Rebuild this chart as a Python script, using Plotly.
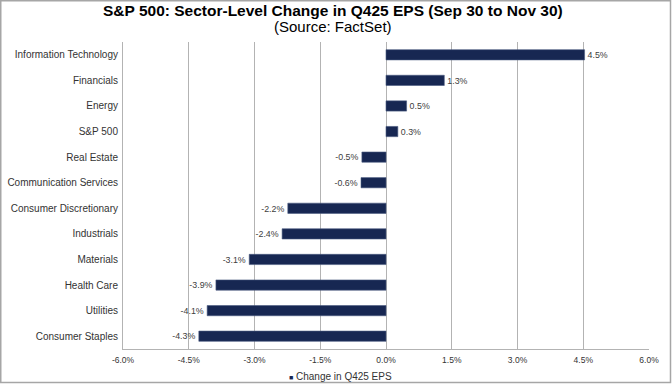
import plotly.graph_objects as go

categories = ["Information Technology", "Financials", "Energy", "S&P 500", "Real Estate",
              "Communication Services", "Consumer Discretionary", "Industrials", "Materials",
              "Health Care", "Utilities", "Consumer Staples"]
values = [4.53, 1.33, 0.47, 0.27, -0.55, -0.57, -2.24, -2.37, -3.12, -3.88, -4.08, -4.27]
labels = ["4.5%", "1.3%", "0.5%", "0.3%", "-0.5%", "-0.6%", "-2.2%", "-2.4%", "-3.1%",
          "-3.9%", "-4.1%", "-4.3%"]
tick_vals = [-6, -4.5, -3, -1.5, 0, 1.5, 3, 4.5, 6]
tick_text = ["-6.0%", "-4.5%", "-3.0%", "-1.5%", "0.0%", "1.5%", "3.0%", "4.5%", "6.0%"]
series_name = "Change in Q425 EPS"

FONT = "Liberation Sans, Arial, sans-serif"
NAVY = "#172752"
GRID = "#b3b3b3"

L, R, T, B = 123, 23, 42, 36
PW, PH = 672 - L - R, 385 - T - B

fig = go.Figure()
fig.add_trace(go.Bar(
    y=categories, x=values, orientation="h", name=series_name,
    marker=dict(color=NAVY, line=dict(color="#4a5a80", width=0.6)),
    width=0.4,
    text=labels, textposition="outside", cliponaxis=False,
    textfont=dict(family=FONT, size=9.5, color="#404040"),
    showlegend=False,
))

fig.update_layout(
    width=672, height=385,
    margin=dict(l=L, r=R, t=T, b=B, autoexpand=False),
    paper_bgcolor="white", plot_bgcolor="white",
    font=dict(family=FONT, color="#333333"),
    showlegend=False,
    annotations=[
        dict(text="<b>S&P 500: Sector-Level Change in Q425 EPS (Sep 30 to Nov 30)</b>",
             xref="paper", yref="paper", x=(333 - L) / PW, y=1, yshift=T - 10.5,
             showarrow=False, xanchor="center", yanchor="middle",
             font=dict(family=FONT, size=15.5, color="#000000")),
        dict(text="(Source: FactSet)",
             xref="paper", yref="paper", x=(333 - L) / PW, y=1, yshift=T - 26,
             showarrow=False, xanchor="center", yanchor="middle",
             font=dict(family=FONT, size=15, color="#000000")),
        # legend
        dict(text=f"<span style='font-size:7px;color:{NAVY}'>■</span> " + series_name,
             xref="paper", yref="paper", x=(287 - L) / PW, y=0, yshift=-(376.5 - T - PH),
             showarrow=False, xanchor="left", yanchor="middle",
             font=dict(family=FONT, size=10, color="#333333")),
    ],
    shapes=[
        dict(type="rect", xref="paper", yref="paper",
             x0=-(L - 0.75) / PW, x1=(670.5 - L) / PW,
             y0=-(382.5 - T - PH) / PH, y1=(PH + T - 0.75) / PH,
             line=dict(color="#a6a6a6", width=1.5), fillcolor="rgba(0,0,0,0)", layer="below"),
    ],
)

fig.update_xaxes(
    range=[-6, 6], tickvals=tick_vals, ticktext=tick_text,
    showgrid=True, gridcolor=GRID, gridwidth=1,
    zeroline=False, showline=True, linecolor=GRID, linewidth=1,
    tickfont=dict(family=FONT, size=8.5, color="#333333"),
    ticks="outside", ticklen=3, tickcolor="rgba(0,0,0,0)",
    fixedrange=True, automargin=False,
)
fig.update_yaxes(
    categoryorder="array", categoryarray=categories, autorange="reversed",
    showgrid=False, zeroline=False, showline=True, linecolor=GRID, linewidth=1,
    tickfont=dict(family=FONT, size=10, color="#333333"),
    ticks="outside", ticklen=2, tickcolor="rgba(0,0,0,0)", automargin=False,
    fixedrange=True,
)

fig.write_html("out.html", config={"displayModeBar": False},
               post_script="document.body.style.margin='0px';")
